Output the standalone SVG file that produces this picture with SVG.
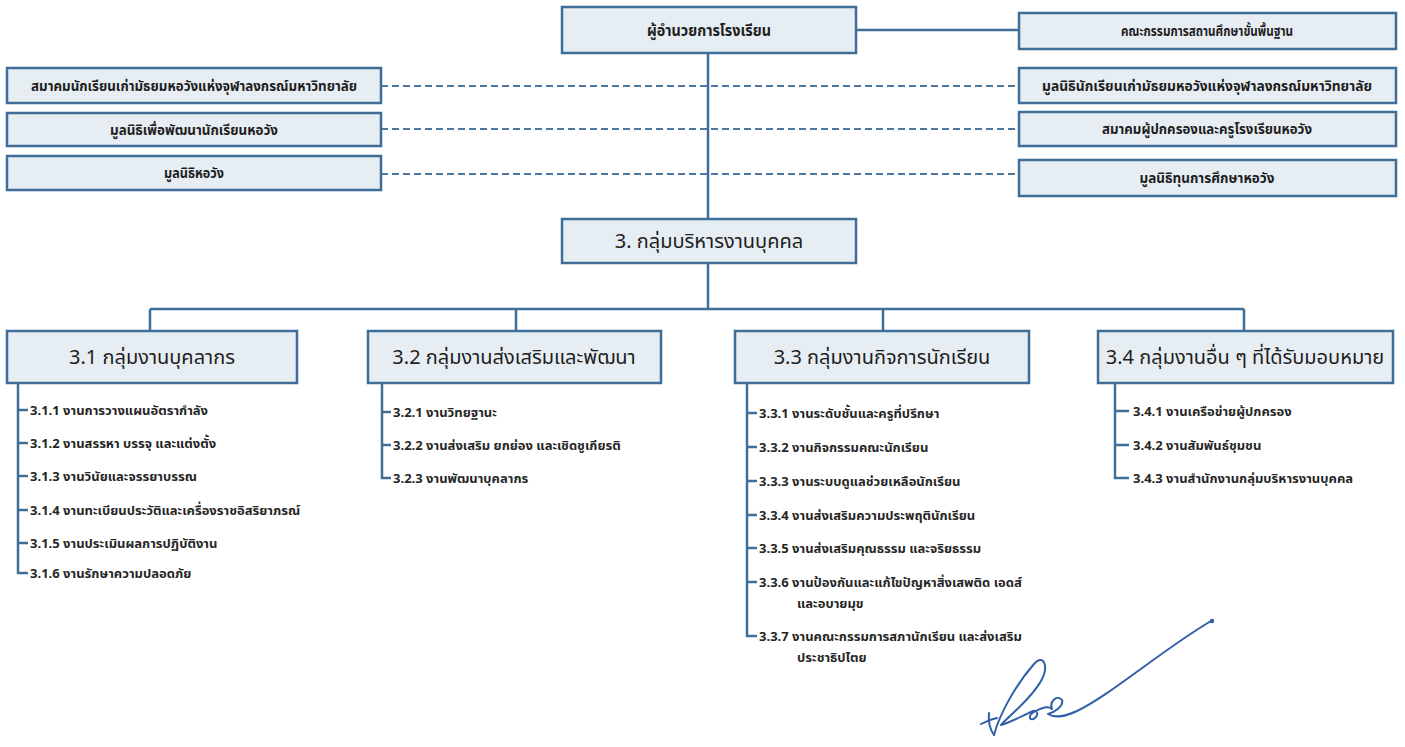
<svg xmlns="http://www.w3.org/2000/svg" width="1405" height="747" viewBox="0 0 1405 747">
<style>
.box{fill:#e6edf3;stroke:#3f6f98;stroke-width:2.5}
.ln{stroke:#3f6f98;stroke-width:2.5;fill:none}
.dash{stroke:#4a78a3;stroke-width:2.2;stroke-dasharray:7 4;fill:none}
.t{font-family:"Noto Sans Thai","Noto Sans","DejaVu Sans",sans-serif;fill:#1e1e1e;text-anchor:middle}
.s{font-size:13.5px;font-weight:bold}
.m{font-size:15.5px;font-weight:bold}
.h{font-size:20px}
.i{font-family:"Noto Sans Thai","Noto Sans","DejaVu Sans",sans-serif;fill:#262626;font-size:13px;font-weight:bold}
.sig{stroke:#2f5fa8;stroke-width:2;fill:none;stroke-linecap:round;stroke-linejoin:round}
</style>
<rect width="1405" height="747" fill="#ffffff"/>
<g id="connectors">
<path class="ln" d="M708 53 V219 M708 263 V309 M856 30 H1019 M150 309 H1244 M150 309 V331 M516 309 V331 M883 309 V331 M1244 309 V331"/>
<path class="dash" d="M381 86 H1019 M381 129 H1019 M381 174 H1019"/>
<path class="ln" d="M18 383 V573 H28 M18 410 H28 M18 443 H28 M18 476 H28 M18 510 H28 M18 543 H28"/>
<path class="ln" d="M382 383 V478 H391 M382 412 H391 M382 445 H391"/>
<path class="ln" d="M747 383 V636 H757 M747 413 H757 M747 447 H757 M747 481 H757 M747 515 H757 M747 548 H757 M747 582 H757"/>
<path class="ln" d="M1115 383 V478 H1129 M1115 411 H1129 M1115 445 H1129"/>
</g>
<g id="director"><rect class="box" x="562" y="7" width="294" height="46"/><text class="t m" x="709" y="36" textLength="124" lengthAdjust="spacingAndGlyphs">ผู้อำนวยการโรงเรียน</text></g>
<g id="board"><rect class="box" x="1019" y="13" width="377" height="36"/><text class="t s" x="1207" y="36" textLength="172" lengthAdjust="spacingAndGlyphs">คณะกรรมการสถานศึกษาขั้นพื้นฐาน</text></g>
<g id="left1"><rect class="box" x="7" y="68" width="374" height="35"/><text class="t s" x="194" y="91" textLength="326" lengthAdjust="spacingAndGlyphs">สมาคมนักเรียนเก่ามัธยมหอวังแห่งจุฬาลงกรณ์มหาวิทยาลัย</text></g>
<g id="left2"><rect class="box" x="7" y="113" width="374" height="33"/><text class="t s" x="194" y="135" textLength="168" lengthAdjust="spacingAndGlyphs">มูลนิธิเพื่อพัฒนานักเรียนหอวัง</text></g>
<g id="left3"><rect class="box" x="7" y="156" width="374" height="34"/><text class="t s" x="194" y="178" textLength="60" lengthAdjust="spacingAndGlyphs">มูลนิธิหอวัง</text></g>
<g id="right1"><rect class="box" x="1019" y="68" width="377" height="35"/><text class="t s" x="1207" y="91" textLength="330" lengthAdjust="spacingAndGlyphs">มูลนิธินักเรียนเก่ามัธยมหอวังแห่งจุฬาลงกรณ์มหาวิทยาลัย</text></g>
<g id="right2"><rect class="box" x="1019" y="112" width="377" height="34"/><text class="t s" x="1207" y="134" textLength="210" lengthAdjust="spacingAndGlyphs">สมาคมผู้ปกครองและครูโรงเรียนหอวัง</text></g>
<g id="right3"><rect class="box" x="1019" y="160" width="377" height="36"/><text class="t s" x="1207" y="183" textLength="135" lengthAdjust="spacingAndGlyphs">มูลนิธิทุนการศึกษาหอวัง</text></g>
<g id="dept"><rect class="box" x="562" y="219" width="294" height="44"/><text class="t h" x="709" y="248">3. กลุ่มบริหารงานบุคคล</text></g>
<g id="g31"><rect class="box" x="7" y="331" width="290" height="52"/><text class="t h" x="152" y="364">3.1 กลุ่มงานบุคลากร</text>
<text class="i" x="30" y="415">3.1.1 งานการวางแผนอัตรากำลัง</text>
<text class="i" x="30" y="448">3.1.2 งานสรรหา บรรจุ และแต่งตั้ง</text>
<text class="i" x="30" y="481">3.1.3 งานวินัยและจรรยาบรรณ</text>
<text class="i" x="30" y="515">3.1.4 งานทะเบียนประวัติและเครื่องราชอิสริยาภรณ์</text>
<text class="i" x="30" y="548">3.1.5 งานประเมินผลการปฏิบัติงาน</text>
<text class="i" x="30" y="578">3.1.6 งานรักษาความปลอดภัย</text>
</g>
<g id="g32"><rect class="box" x="368" y="331" width="293" height="52"/><text class="t h" x="514" y="364">3.2 กลุ่มงานส่งเสริมและพัฒนา</text>
<text class="i" x="393" y="417">3.2.1 งานวิทยฐานะ</text>
<text class="i" x="393" y="450">3.2.2 งานส่งเสริม ยกย่อง และเชิดชูเกียรติ</text>
<text class="i" x="393" y="483">3.2.3 งานพัฒนาบุคลากร</text>
</g>
<g id="g33"><rect class="box" x="735" y="331" width="294" height="52"/><text class="t h" x="882" y="364">3.3 กลุ่มงานกิจการนักเรียน</text>
<text class="i" x="759" y="418">3.3.1 งานระดับชั้นและครูที่ปรึกษา</text>
<text class="i" x="759" y="452">3.3.2 งานกิจกรรมคณะนักเรียน</text>
<text class="i" x="759" y="486">3.3.3 งานระบบดูแลช่วยเหลือนักเรียน</text>
<text class="i" x="759" y="520">3.3.4 งานส่งเสริมความประพฤตินักเรียน</text>
<text class="i" x="759" y="553">3.3.5 งานส่งเสริมคุณธรรม และจริยธรรม</text>
<text class="i" x="759" y="587">3.3.6 งานป้องกันและแก้ไขปัญหาสิ่งเสพติด เอดส์</text>
<text class="i" x="797" y="608">และอบายมุข</text>
<text class="i" x="759" y="641">3.3.7 งานคณะกรรมการสภานักเรียน และส่งเสริม</text>
<text class="i" x="797" y="662">ประชาธิปไตย</text>
</g>
<g id="g34"><rect class="box" x="1098" y="331" width="295" height="52"/><text class="t h" x="1245" y="364">3.4 กลุ่มงานอื่น ๆ ที่ได้รับมอบหมาย</text>
<text class="i" x="1133" y="416">3.4.1 งานเครือข่ายผู้ปกครอง</text>
<text class="i" x="1133" y="450">3.4.2 งานสัมพันธ์ชุมชน</text>
<text class="i" x="1133" y="483">3.4.3 งานสำนักงานกลุ่มบริหารงานบุคคล</text>
</g>
<g id="signature">
<path class="sig" d="M981 724 C986 721 992 719 997 718 M989 713 C988 721 990 730 994 735"/>
<path class="sig" d="M994 735 C1000 712 1018 682 1034 664 C1044 653 1049 667 1041 681 C1031 699 1012 713 1001 725 C1011 722 1024 715 1031 712 C1036 709 1040 713 1035 718 C1030 722 1027 716 1034 712 C1041 708 1048 705 1052 709 C1049 700 1058 695 1062 700 C1064 706 1055 712 1048 714 C1056 719 1066 716 1077 711 C1112 694 1162 650 1211 621"/>
<circle cx="1212" cy="621" r="2.2" fill="#2f5fa8"/>
</g>
</svg>
